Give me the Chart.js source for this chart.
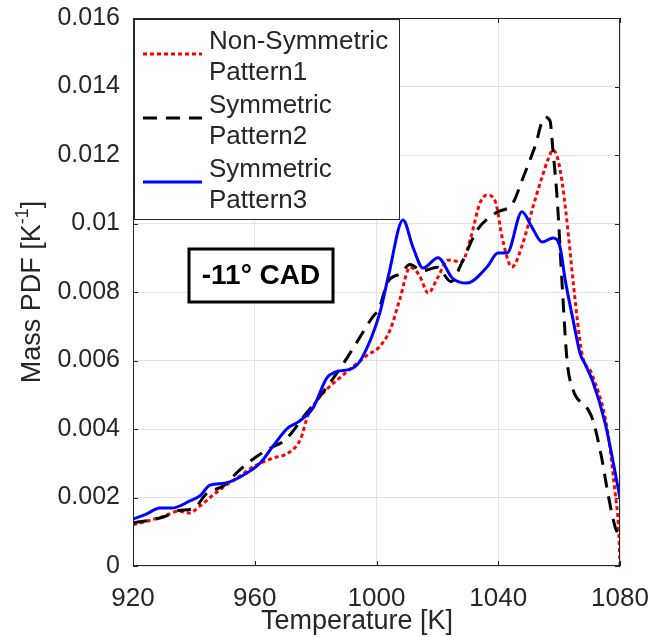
<!DOCTYPE html>
<html>
<head>
<meta charset="utf-8">
<script src="https://cdn.jsdelivr.net/npm/chart.js@4.4.1/dist/chart.umd.min.js"></script>
<style>
	html, body { margin: 0; padding: 0; background: #fff; }
</style>
</head>
<body>
<canvas id="mass-pdf" width="665" height="637"></canvas>
<script>
const tempTicks = [920, 960, 1000, 1040, 1080];
const pdfTicks = [0, 0.002, 0.004, 0.006, 0.008, 0.01, 0.012, 0.014, 0.016];

// Non-Symmetric Pattern1 (red dotted)
const tempP1 = [920, 925, 930, 935, 938.5, 942, 946, 950, 955, 960, 966, 971, 975, 977.5, 982, 988, 993, 997, 1001, 1004.5, 1007.7, 1011, 1014, 1017, 1020, 1023.5, 1028, 1031, 1034, 1036.3, 1039, 1041.5, 1044.5, 1048, 1051.4, 1054.4, 1056.5, 1058, 1059.5, 1061, 1063, 1064.6, 1067.5, 1070.8, 1075.8, 1078.4, 1079.6, 1080];
const pdfP1 = [0.00120, 0.00132, 0.00145, 0.00160, 0.00155, 0.00175, 0.00205, 0.00232, 0.00262, 0.00292, 0.00315, 0.00330, 0.00370, 0.00440, 0.00500, 0.00550, 0.00587, 0.00616, 0.00640, 0.00690, 0.00780, 0.00872, 0.00850, 0.00797, 0.00840, 0.00893, 0.00888, 0.00960, 0.01060, 0.01083, 0.01065, 0.00950, 0.00873, 0.00940, 0.01048, 0.01136, 0.01190, 0.01215, 0.01190, 0.01120, 0.00970, 0.00830, 0.00620, 0.00560, 0.00400, 0.00213, 0.00100, 0.00000];

// Symmetric Pattern2 (black dashed)
const tempP2 = [920, 925, 930, 935, 940, 944, 950, 955, 961, 966, 970, 976.5, 983, 990.5, 998.5, 1001, 1003.5, 1008, 1011, 1015, 1020, 1024.5, 1028, 1033, 1039, 1044.8, 1048, 1052, 1055.3, 1057, 1058, 1059.3, 1061, 1062.6, 1064.6, 1069.2, 1071.1, 1074.1, 1076, 1078.4, 1080];
const pdfP2 = [0.00126, 0.00133, 0.00143, 0.00162, 0.00168, 0.00210, 0.00236, 0.00280, 0.00322, 0.00348, 0.00368, 0.00441, 0.00514, 0.00610, 0.00724, 0.00755, 0.00826, 0.00855, 0.00880, 0.00862, 0.00872, 0.00830, 0.00885, 0.00980, 0.01030, 0.01060, 0.01130, 0.01223, 0.01310, 0.01300, 0.01210, 0.01080, 0.00820, 0.00600, 0.00514, 0.00461, 0.00426, 0.00310, 0.00213, 0.00114, 0.00085];

// Symmetric Pattern3 (blue solid)
const tempP3 = [920, 924, 928.9, 932.8, 938.7, 942, 945.3, 950.2, 955.2, 961.7, 966, 970.9, 974.2, 979.1, 983.7, 986.4, 992.3, 995.2, 1001.1, 1004, 1008.7, 1012, 1015.3, 1020.2, 1025, 1029.7, 1036.3, 1039.9, 1042.9, 1047.8, 1051, 1054.4, 1058, 1060.3, 1062, 1064.6, 1066.9, 1068.5, 1071, 1075.1, 1080];
const pdfP3 = [0.00137, 0.00150, 0.00169, 0.00169, 0.00190, 0.00205, 0.00236, 0.00242, 0.00260, 0.00300, 0.00350, 0.00403, 0.00420, 0.00461, 0.00549, 0.00566, 0.00578, 0.00607, 0.00739, 0.00850, 0.01010, 0.00930, 0.00870, 0.00900, 0.00840, 0.00826, 0.00873, 0.00914, 0.00914, 0.01034, 0.00990, 0.00946, 0.00958, 0.00931, 0.00835, 0.00718, 0.00620, 0.00590, 0.00540, 0.00418, 0.00199];

const seriesNames = [["Non-Symmetric", "Pattern1"], ["Symmetric", "Pattern2"], ["Symmetric", "Pattern3"]];
const caseLabel = "-11° CAD";

const FONT = "'Liberation Sans', Arial, sans-serif";
const AXIS = "#262626";

function toPoints(xs, ys) {
	return xs.map((x, i) => ({ x: x, y: ys[i] }));
}

const lineStyles = [
	{ color: "#ff0000", dash: [4, 3] },
	{ color: "#000000", dash: [14, 9] },
	{ color: "#0000ff", dash: [] }
];

const decorations = {
	id: "decorations",
	afterDraw(chart) {
		const ctx = chart.ctx;
		const a = chart.chartArea;
		const xs = chart.scales.x, ys = chart.scales.y;
		ctx.save();

		// axes box + inward ticks
		ctx.strokeStyle = AXIS;
		ctx.lineWidth = 1;
		ctx.strokeRect(a.left + 0.5, a.top + 0.5, a.right - a.left - 1, a.bottom - a.top - 1);
		ctx.beginPath();
		tempTicks.forEach(t => {
			const px = Math.round(xs.getPixelForValue(t)) + 0.5;
			ctx.moveTo(px, a.bottom); ctx.lineTo(px, a.bottom - 5);
			ctx.moveTo(px, a.top); ctx.lineTo(px, a.top + 5);
		});
		pdfTicks.forEach(v => {
			const py = Math.round(ys.getPixelForValue(v)) + 0.5;
			ctx.moveTo(a.left, py); ctx.lineTo(a.left + 5, py);
			ctx.moveTo(a.right, py); ctx.lineTo(a.right - 5, py);
		});
		ctx.stroke();

		// axis titles
		ctx.fillStyle = AXIS;
		ctx.textBaseline = "middle";
		ctx.textAlign = "center";
		ctx.font = "27px " + FONT;
		ctx.fillText("Temperature [K]", a.left + 224, 622);

		ctx.save();
		ctx.translate(33, (a.top + a.bottom) / 2);
		ctx.rotate(-Math.PI / 2);
		ctx.textAlign = "left";
		ctx.font = "27px " + FONT;
		const w1 = ctx.measureText("Mass PDF [K").width;
		const w3 = ctx.measureText("]").width;
		ctx.font = "18px " + FONT;
		const w2 = ctx.measureText("-1").width;
		let x0 = -(w1 + w2 + w3) / 2;
		ctx.font = "27px " + FONT;
		ctx.fillText("Mass PDF [K", x0, 0);
		ctx.font = "18px " + FONT;
		ctx.fillText("-1", x0 + w1, -10);
		ctx.font = "27px " + FONT;
		ctx.fillText("]", x0 + w1 + w2, 0);
		ctx.restore();

		// legend box
		const lx = a.left + 1, ly = a.top + 1, lw = 265, lh = 200;
		ctx.fillStyle = "#fff";
		ctx.fillRect(lx, ly, lw, lh);
		ctx.strokeStyle = AXIS;
		ctx.lineWidth = 1;
		ctx.strokeRect(lx + 0.5, ly + 0.5, lw, lh);
		ctx.font = "26px " + FONT;
		ctx.textAlign = "left";
		seriesNames.forEach((lines, i) => {
			const yTop = ly + 23 + i * 64;
			const s = lineStyles[i];
			ctx.strokeStyle = s.color;
			ctx.lineWidth = 3;
			ctx.setLineDash(s.dash);
			ctx.beginPath();
			ctx.moveTo(lx + 9, yTop + 12);
			ctx.lineTo(lx + 68, yTop + 12);
			ctx.stroke();
			ctx.setLineDash([]);
			ctx.fillStyle = AXIS;
			ctx.fillText(lines[0], lx + 75, yTop);
			ctx.fillText(lines[1], lx + 75, yTop + 31);
		});

		// case annotation
		const bx = a.left + 56, by = a.top + 231, bw = 144, bh = 53;
		ctx.fillStyle = "#fff";
		ctx.fillRect(bx, by, bw, bh);
		ctx.strokeStyle = "#000";
		ctx.lineWidth = 3;
		ctx.strokeRect(bx, by, bw, bh);
		ctx.fillStyle = "#000";
		ctx.textAlign = "center";
		ctx.font = "bold 28px " + FONT;
		ctx.fillText(caseLabel, bx + bw / 2, by + bh / 2 + 1);

		ctx.restore();
	}
};

new Chart(document.querySelector("#mass-pdf"), {
	type: "line",
	data: {
		datasets: [{
			label: "Non-Symmetric Pattern1",
			data: toPoints(tempP1, pdfP1),
			borderColor: lineStyles[0].color,
			borderDash: lineStyles[0].dash,
			order: 3
		}, {
			label: "Symmetric Pattern2",
			data: toPoints(tempP2, pdfP2),
			borderColor: lineStyles[1].color,
			borderDash: lineStyles[1].dash,
			order: 2
		}, {
			label: "Symmetric Pattern3",
			data: toPoints(tempP3, pdfP3),
			borderColor: lineStyles[2].color,
			order: 1
		}]
	},
	plugins: [decorations],
	options: {
		responsive: false,
		animation: false,
		layout: { padding: { left: 0, right: 45, top: 18, bottom: 0 } },
		elements: {
			point: { radius: 0 },
			line: { borderWidth: 3, cubicInterpolationMode: "monotone", fill: false }
		},
		plugins: {
			legend: { display: false },
			tooltip: { enabled: false }
		},
		scales: {
			x: {
				type: "linear",
				min: 920,
				max: 1080,
				afterFit: s => { s.height = 71; s.paddingLeft = 0; s.paddingRight = 0; },
				afterBuildTicks: s => { s.ticks = tempTicks.map(v => ({ value: v })); },
				ticks: {
					padding: 17,
					color: AXIS,
					font: { family: FONT, size: 26 },
					maxRotation: 0,
					callback: v => String(v)
				},
				grid: { color: "#e2e2e2", drawTicks: false },
				border: { display: false }
			},
			y: {
				min: 0,
				max: 0.016,
				afterFit: s => { s.width = 133; s.paddingTop = 0; s.paddingBottom = 0; },
				afterBuildTicks: s => { s.ticks = pdfTicks.map(v => ({ value: v })); },
				ticks: {
					padding: 13,
					color: AXIS,
					font: { family: FONT, size: 25 },
					callback: v => String(Number(v.toFixed(3)))
				},
				grid: { color: "#e2e2e2", drawTicks: false },
				border: { display: false }
			}
		}
	}
});
</script>
</body>
</html>
